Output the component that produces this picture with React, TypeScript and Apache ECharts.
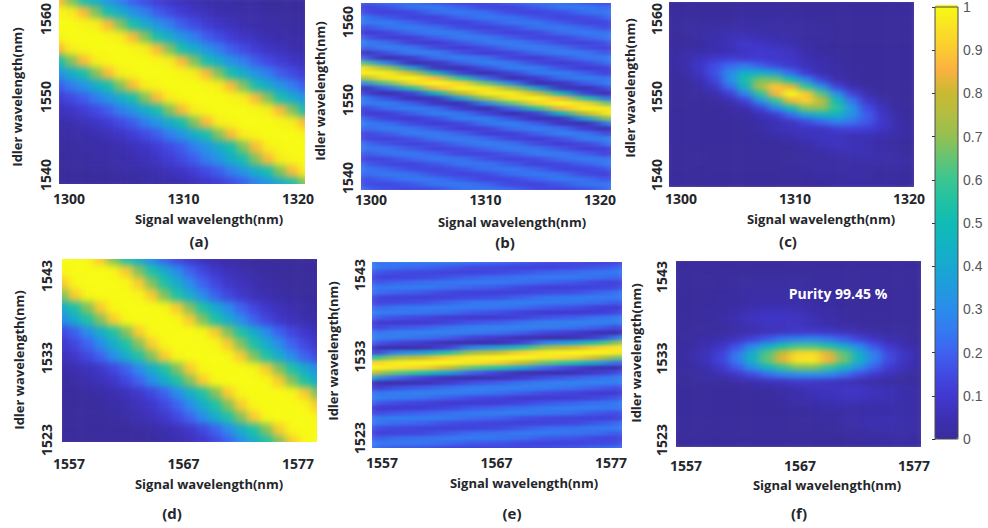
import React, { useEffect, useRef } from "react";
import * as echarts from "echarts";

// Colour scale (0 to 1, steps of 0.05)
const scaleColors = ["#3a2c9c","#3c30b5","#4139d0","#414ae3","#3e62f0","#347af0","#2a8cec","#209bde","#18a8d0","#12b3c2","#10bcb4","#22c2a2","#3cc690","#68c372","#96c050","#b4bd40","#ccb932","#fbb140","#fbcb30","#f9e322","#f7fb14"];

const signalTicksTop = [1300, 1310, 1320];
const idlerTicksTop = [1540, 1550, 1560];
const signalTicksBottom = [1557, 1567, 1577];
const idlerTicksBottom = [1523, 1533, 1543];
const panelNames = ["(a)", "(b)", "(c)", "(d)", "(e)", "(f)"];
const xTitle = "Signal wavelength(nm)";
const yTitle = "Idler wavelength(nm)";
const purityNote = "Purity 99.45 %";

// Panel (a): values in percent, listed row by row from the top
const aRows = [
[87,68,52,42,33,26,19,15,11,8,6,4,3,2,2,1,1,0,0,0,0],
[99,97,87,68,52,42,33,26,19,15,11,8,6,4,3,2,2,1,1,0,0],
[100,100,99,97,87,68,52,42,33,26,19,15,11,8,6,4,3,2,2,1,1],
[99,100,100,100,99,97,87,68,52,42,33,26,19,15,11,8,6,4,3,2,2],
[87,97,99,100,100,100,99,97,87,68,52,42,33,26,19,15,11,8,6,4,3],
[52,68,87,97,99,100,100,100,99,97,87,68,52,42,33,26,19,15,11,8,6],
[33,42,52,68,87,97,99,100,100,100,99,97,87,68,52,42,33,26,19,15,11],
[19,26,33,42,52,68,87,97,99,100,100,100,99,97,87,68,52,42,33,26,19],
[11,15,19,26,33,42,52,68,87,97,99,100,100,100,99,97,87,68,52,42,33],
[6,8,11,15,19,26,33,42,52,68,87,97,99,100,100,100,99,97,87,68,52],
[3,4,6,8,11,15,19,26,33,42,52,68,87,97,99,100,100,100,99,97,87],
[2,2,3,4,6,8,11,15,19,26,33,42,52,68,87,97,99,100,100,100,99],
[1,1,2,2,3,4,6,8,11,15,19,26,33,42,52,68,87,97,99,100,100],
[0,1,1,2,2,3,4,6,8,11,15,19,26,33,42,52,68,87,97,99,100],
[0,0,0,1,1,2,2,3,4,6,8,11,15,19,26,33,42,52,68,87,97],
[0,0,0,0,0,1,1,2,2,3,4,6,8,11,15,19,26,33,42,52,68],
];

// Panel (d): row by row from the top
const dRows = [
[100,100,99,90,68,54,42,30,20,14,9,6,4,2,1,0,0,0,0,0,0],
[99,100,100,100,99,90,68,54,42,30,20,14,9,6,4,2,1,0,0,0,0],
[90,99,100,100,100,99,90,68,54,42,30,20,14,9,6,4,2,1,0,0,0],
[68,90,99,100,100,100,99,90,68,54,42,30,20,14,9,6,4,2,1,0,0],
[42,54,68,90,99,100,100,100,99,90,68,54,42,30,20,14,9,6,4,2,1],
[30,42,54,68,90,99,100,100,100,99,90,68,54,42,30,20,14,9,6,4,2],
[14,20,30,42,54,68,90,99,100,100,100,99,90,68,54,42,30,20,14,9,6],
[9,14,20,30,42,54,68,90,99,100,100,100,99,90,68,54,42,30,20,14,9],
[6,9,14,20,30,42,54,68,90,99,100,100,100,99,90,68,54,42,30,20,14],
[2,4,6,9,14,20,30,42,54,68,90,99,100,100,100,99,90,68,54,42,30],
[1,2,4,6,9,14,20,30,42,54,68,90,99,100,100,100,99,90,68,54,42],
[0,0,1,2,4,6,9,14,20,30,42,54,68,90,99,100,100,100,99,90,68],
[0,0,0,1,2,4,6,9,14,20,30,42,54,68,90,99,100,100,100,99,90],
[0,0,0,0,1,2,4,6,9,14,20,30,42,54,68,90,99,100,100,100,99],
[0,0,0,0,0,0,1,2,4,6,9,14,20,30,42,54,68,90,99,100,100],
[0,0,0,0,0,0,0,1,2,4,6,9,14,20,30,42,54,68,90,99,100],
];

// Panel (b): column by column from the left, each column from the top
const bCols = [
[18,12,16,25,24,15,10,19,27,19,5,20,64,95,97,72,28,3,13,26,24,12,11,21,26,20,13,14,23,24,17,13,20,25,21,15,16,21],
[24,16,12,18,26,23,13,11,22,27,16,3,28,72,97,95,64,20,3,16,27,22,11,13,23,26,18,12,16,24,23,14,14,21,25,20,14,16],
[24,23,14,13,20,26,21,11,12,24,26,10,4,37,80,99,91,55,12,5,19,27,19,10,15,24,25,16,12,18,25,20,13,15,23,25,18,14],
[18,25,22,13,14,22,26,19,10,14,26,22,7,7,46,86,100,86,46,7,7,22,27,16,10,17,25,24,15,12,20,25,18,13,16,24,24,16],
[13,20,25,20,12,15,24,25,17,10,16,27,19,5,12,55,91,99,80,37,4,10,24,26,14,10,19,26,22,14,13,23,24,17,13,18,25,23],
[14,14,22,25,18,12,16,25,24,15,10,22,27,16,3,20,64,95,97,72,28,3,13,26,24,12,11,21,26,20,13,16,24,23,15,13,20,25],
[20,13,15,23,24,16,12,18,26,23,13,12,24,26,13,3,28,72,97,95,64,20,3,16,27,22,11,13,23,26,18,12,18,25,22,14,14,21],
[25,18,13,17,24,23,14,13,20,26,21,10,14,26,24,10,4,37,80,99,91,55,12,5,19,27,19,10,15,24,25,15,12,20,25,20,13,15],
[24,24,16,13,18,25,22,13,14,22,26,17,10,16,27,22,7,7,46,86,100,86,46,7,7,22,27,16,10,17,25,22,14,13,22,25,18,13],
[18,25,23,15,13,20,25,20,12,15,24,24,15,10,19,27,19,5,12,55,91,99,80,37,4,10,24,26,14,10,19,26,20,13,14,23,24,17],
[14,20,25,21,14,14,22,25,18,12,16,26,23,13,11,22,27,16,3,20,64,95,97,72,28,3,13,26,24,12,11,23,26,18,12,16,24,23],
];

// Panel (e): column by column from the left, each column from the top
const eCols = [
[23,25,18,13,17,24,23,14,13,20,26,20,11,13,23,27,19,5,12,55,91,99,80,37,4,10,23,27,19,10,14,24,25,16,12,18,25,22],
[25,23,15,13,20,25,20,12,15,24,25,16,10,17,26,25,13,3,28,72,97,95,64,20,3,16,26,25,15,10,18,26,22,14,13,22,25,18],
[25,21,14,14,22,25,18,12,16,25,24,14,10,19,27,23,10,4,37,80,99,91,55,12,5,19,27,23,13,11,20,26,20,13,14,23,24,17],
[25,18,13,17,24,23,14,13,20,26,22,11,13,23,27,19,5,12,55,91,99,80,37,4,10,23,27,19,10,14,23,25,16,12,18,25,22,14],
[23,15,13,20,25,20,12,15,24,25,18,10,17,26,25,13,3,28,72,97,95,64,20,3,16,26,25,15,10,18,25,22,14,13,22,25,18,13],
[21,14,14,22,25,18,12,16,25,24,16,10,19,27,23,10,4,37,80,99,91,55,12,5,19,27,23,13,11,20,26,20,13,14,23,24,17,13],
[18,13,17,24,23,14,13,20,26,22,12,13,23,27,19,5,12,55,91,99,80,37,4,10,23,27,19,10,14,23,26,16,12,18,25,22,14,14],
[15,13,20,25,20,12,15,24,25,18,10,17,26,25,13,3,28,72,97,95,64,20,3,16,26,25,15,10,18,25,24,14,13,22,25,18,13,16],
[14,14,22,25,18,12,16,25,24,16,10,19,27,23,10,4,37,80,99,91,55,12,5,19,27,23,13,11,20,26,22,13,14,23,24,17,13,18],
[13,17,24,23,14,13,20,26,22,12,11,23,27,19,5,12,55,91,99,80,37,4,10,23,27,19,10,14,23,26,18,12,18,25,22,14,14,21],
[13,20,25,20,12,15,24,25,18,10,15,26,25,13,3,28,72,97,95,64,20,3,16,26,25,15,10,18,25,24,15,13,22,25,18,13,16,24],
];

// Panel (c): column by column from the left, each column from the top
const cCols = [
[0,0,0,0,0,0,0,1,1,1,0,0,0,0,0,0,0,0,0,0,0,0,0,0,0,0,0],
[0,0,0,1,1,0,1,2,3,3,2,1,0,0,0,0,0,0,0,0,0,0,0,0,0,0,0],
[0,0,0,1,2,2,1,3,6,8,7,5,2,1,0,0,0,0,0,0,0,0,0,0,0,0,0],
[0,0,0,1,2,3,3,4,9,15,16,13,8,3,1,0,0,0,0,0,0,0,0,0,0,0,0],
[0,0,0,1,3,5,6,5,11,21,29,30,22,11,4,1,1,0,0,0,0,0,0,0,0,0,0],
[0,1,1,2,3,6,9,8,10,24,42,52,46,27,12,4,1,1,0,0,0,0,0,0,0,0,0],
[0,1,1,2,2,4,8,10,10,19,42,66,74,56,31,13,5,3,2,1,0,0,0,0,0,0,0],
[0,1,1,2,2,3,6,9,9,14,35,66,89,85,57,28,10,5,5,2,1,0,0,0,0,0,0],
[0,0,1,1,2,2,4,7,8,9,21,50,83,100,83,50,21,7,6,4,1,0,0,0,0,0,0],
[0,0,0,1,1,1,2,3,5,6,10,28,58,89,91,68,36,14,7,6,3,1,1,2,1,0,0],
[0,0,0,0,1,1,1,1,3,4,4,13,33,63,78,69,44,20,7,7,6,3,1,2,2,1,0],
[0,0,0,0,0,0,0,1,1,2,2,4,13,32,50,56,45,26,11,7,7,5,2,2,2,1,1],
[0,0,0,0,0,0,0,0,0,0,1,1,4,13,24,33,32,23,12,5,6,5,3,2,2,2,1],
[0,0,0,0,0,0,0,0,0,0,0,0,1,4,9,15,19,17,11,5,4,5,4,2,2,2,1],
[0,0,0,0,0,0,0,0,0,0,0,0,0,0,3,6,8,9,7,4,2,3,3,2,1,1,1],
[0,0,0,0,0,0,0,0,0,0,0,0,0,0,0,1,2,3,3,2,1,1,2,2,1,1,0],
[0,0,0,0,0,0,0,0,0,0,0,0,0,0,0,0,0,1,1,1,0,0,1,1,0,0,0],
];

// Panel (f): row by row from the top
const fRows = [
[0,0,0,0,0,0,0,0,0,0,0,0,0,0,0,0,0],
[0,0,0,0,0,0,0,0,0,0,0,0,0,0,0,0,0],
[0,0,0,0,0,0,0,0,0,0,0,0,0,0,0,0,0],
[0,0,0,0,1,1,1,1,1,0,0,0,0,0,0,0,0],
[0,0,0,0,1,2,2,2,2,1,0,0,0,0,0,0,0],
[0,0,0,1,1,2,2,2,2,1,1,0,0,0,0,0,0],
[0,0,0,1,1,2,3,3,2,2,1,0,0,0,0,0,0],
[0,0,1,1,3,5,6,6,5,3,2,1,0,0,0,0,0],
[0,0,1,2,4,7,8,8,7,5,3,1,0,0,0,0,0],
[0,0,0,1,3,5,7,7,7,5,3,2,1,0,0,0,0],
[0,0,1,1,2,4,6,7,9,9,8,6,4,2,1,1,0],
[0,1,2,4,7,12,18,24,27,28,24,19,13,8,4,2,1],
[1,1,4,8,16,28,41,53,61,61,54,42,29,17,9,4,2],
[1,2,6,12,24,42,62,80,92,93,82,64,43,26,14,7,3],
[1,2,6,13,25,43,64,82,95,96,84,66,44,27,14,7,3],
[1,1,4,9,18,31,45,58,67,67,59,46,31,19,10,5,2],
[0,1,2,4,8,14,21,27,31,32,28,22,15,9,5,2,1],
[0,0,1,1,2,4,6,7,9,9,8,6,4,2,1,1,0],
[0,0,0,0,0,1,1,3,4,6,7,8,8,6,5,3,2],
[0,0,0,0,0,0,1,2,3,5,6,7,7,6,5,3,2],
[0,0,0,0,0,0,0,1,2,3,4,5,4,4,4,3,2],
[0,0,0,0,0,0,0,0,1,1,2,2,2,2,3,2,2],
[0,0,0,0,0,0,0,0,0,1,1,2,3,4,4,3,2],
[0,0,0,0,0,0,0,0,0,0,1,2,3,4,4,3,2],
[0,0,0,0,0,0,0,0,0,0,0,1,1,2,2,2,2],
[0,0,0,0,0,0,0,0,0,0,0,0,1,1,2,2,1],
[0,0,0,0,0,0,0,0,0,0,0,0,0,1,1,1,1],
];

const transpose = (cols: number[][]) => cols[0].map((_, r) => cols.map((col) => col[r]));

// Layout: heat rectangle, blur (cross-cell smoothing like shading interp), axis extents and text anchors
const panels = [
  { rows: aRows, box: [59, 0, 246, 184], blur: "3.5 3.5", xr: [1299.13, 1320.61], yr: [1538.86, 1562.15], xt: signalTicksTop, yt: idlerTicksTop, xm: 7, ym: 7, xName: [209, 219], yName: [17, 97], tag: [199, 241] },
  { rows: transpose(bCols), box: [361, 3, 250, 187], blur: "9 1.4", xr: [1299.13, 1320.96], yr: [1538.46, 1562.44], xt: signalTicksTop, yt: idlerTicksTop, xm: 2, ym: 7, xName: [512, 222], yName: [320, 91], tag: [505, 242] },
  { rows: transpose(cCols), box: [669, 2, 245, 185], blur: "5 2.5", xr: [1298.95, 1320.44], yr: [1538.46, 1562.18], xt: signalTicksTop, yt: idlerTicksTop, xm: 4, ym: 6, xName: [821, 219], yName: [630, 88], tag: [788, 241] },
  { rows: dRows, box: [62, 259, 255, 183], blur: "3.5 3.5", xr: [1556.39, 1578.66], yr: [1522.76, 1545.07], xt: signalTicksBottom, yt: idlerTicksBottom, xm: 14, ym: 9, xName: [209, 484], yName: [19, 360], tag: [172, 513] },
  { rows: transpose(eCols), box: [372, 262, 250, 186], blur: "9 1.4", xr: [1556.13, 1577.96], yr: [1521.77, 1544.6], xt: signalTicksBottom, yt: idlerTicksBottom, xm: 7, ym: 6, xName: [524, 483], yName: [333, 351], tag: [512, 513] },
  { rows: fRows, box: [676, 261, 245, 186], blur: "5 2.5", xr: [1556.12, 1577.61], yr: [1522.14, 1544.96], xt: signalTicksBottom, yt: idlerTicksBottom, xm: 11, ym: 8, xName: [827, 485], yName: [636, 353], tag: [799, 513] },
];

const TEXT = "#24262b";
const FONT = '"Open Sans", sans-serif';

function heatOption(rows: number[][]) {
  const nCols = rows[0].length;
  const cells: number[][] = [];
  rows.forEach((row, r) => row.forEach((v, c) => cells.push([c, r, v])));
  return {
    animation: false,
    grid: { left: 0, top: 0, right: 0, bottom: 0 },
    xAxis: { type: "category", show: false, data: Array.from({ length: nCols }, (_, i) => String(i)) },
    yAxis: { type: "category", show: false, inverse: true, data: rows.map((_, i) => String(i)) },
    visualMap: { show: false, min: 0, max: 100, dimension: 2, inRange: { color: scaleColors } },
    series: [{ type: "heatmap", data: cells, silent: true, progressive: 0 }],
  };
}

function overlayOption() {
  const grid: any[] = [];
  const xAxis: any[] = [];
  const yAxis: any[] = [];
  const graphic: any[] = [];
  panels.forEach((p, i) => {
    const [l, t, w, h] = p.box;
    grid.push({ left: l, top: t, width: w, height: h, show: false });
    const label = { color: TEXT, fontFamily: FONT, fontWeight: 700, fontSize: 14 };
    xAxis.push({
      type: "value", gridIndex: i, min: p.xr[0], max: p.xr[1], position: "bottom",
      axisLine: { show: false }, axisTick: { show: false }, splitLine: { show: false },
      axisLabel: { ...label, margin: p.xm, customValues: p.xt, formatter: (v: number) => String(v) },
    });
    yAxis.push({
      type: "value", gridIndex: i, min: p.yr[0], max: p.yr[1], position: "left",
      axisLine: { show: false }, axisTick: { show: false }, splitLine: { show: false },
      axisLabel: { ...label, rotate: 90, margin: p.ym, customValues: p.yt, formatter: (v: number) => String(v) },
    });
    const titleStyle = { fill: TEXT, font: `700 13px ${FONT}`, align: "center", verticalAlign: "middle" };
    graphic.push({ type: "text", x: p.xName[0], y: p.xName[1], style: { ...titleStyle, text: xTitle } });
    graphic.push({ type: "text", x: p.yName[0], y: p.yName[1], rotation: Math.PI / 2, style: { ...titleStyle, text: yTitle } });
    graphic.push({ type: "text", x: p.tag[0], y: p.tag[1], style: { ...titleStyle, font: `700 15px ${FONT}`, text: panelNames[i] } });
  });
  graphic.push({ type: "text", x: 838, y: 293, style: { fill: "#ffffff", font: `700 14px ${FONT}`, align: "center", verticalAlign: "middle", text: purityNote } });

  // Colour bar: a visual map for the ramp, and one axis for its frame, ticks and labels
  grid.push({ left: 935, top: 5, width: 23, height: 434, show: true, borderColor: "#4a4a4a", borderWidth: 1, backgroundColor: "transparent", z: 5 });
  xAxis.push({ type: "value", gridIndex: 6, min: 0, max: 1, show: false });
  yAxis.push({
    type: "value", gridIndex: 6, min: 0, max: 1, interval: 0.1, position: "right",
    axisLine: { show: true, lineStyle: { color: "#4a4a4a" } },
    axisTick: { show: true, inside: true, length: 3, lineStyle: { color: "#333" } },
    splitLine: { show: false },
    axisLabel: { color: "#555", fontFamily: "Liberation Sans", fontSize: 14, margin: 5 },
  });
  return {
    animation: false,
    grid, xAxis, yAxis, graphic,
    visualMap: {
      type: "continuous", show: true, min: 0, max: 1, left: 935, top: 5, padding: 0, itemWidth: 23, itemHeight: 434,
      calculable: false, showLabel: false, text: ["", ""], hoverLink: false, inRange: { color: scaleColors },
    },
    series: [],
  };
}

export default function App() {
  const heatRefs = useRef<(HTMLDivElement | null)[]>([]);
  const overlayRef = useRef<HTMLDivElement>(null);
  useEffect(() => {
    const charts = panels.map((p, i) => {
      const c = echarts.init(heatRefs.current[i]!, undefined, { renderer: "svg" });
      c.setOption(heatOption(p.rows) as any);
      return c;
    });
    const overlay = echarts.init(overlayRef.current!, undefined, { renderer: "svg" });
    overlay.setOption(overlayOption() as any);
    return () => {
      charts.forEach((c) => c.dispose());
      overlay.dispose();
    };
  }, []);
  return (
    <div style={{ position: "absolute", left: 0, top: 0, width: 988, height: 528, overflow: "hidden", background: "#fff" }}>
      <svg width="0" height="0" style={{ position: "absolute" }}>
        <defs>
          {panels.map((p, i) => (
            <filter key={i} id={`smooth-${i}`} x="-20%" y="-20%" width="140%" height="140%" colorInterpolationFilters="sRGB">
              <feGaussianBlur stdDeviation={p.blur} />
            </filter>
          ))}
        </defs>
      </svg>
      {panels.map((p, i) => {
        const [l, t, w, h] = p.box;
        const px = w / (p.rows[0].length - 1);
        const py = h / (p.rows.length - 1);
        return (
          <div key={i} style={{ position: "absolute", left: l, top: t, width: w, height: h, overflow: "hidden" }}>
            <div
              ref={(el) => { heatRefs.current[i] = el; }}
              style={{ position: "absolute", left: -px / 2, top: -py / 2, width: w + px, height: h + py, filter: `url(#smooth-${i})` }}
            />
          </div>
        );
      })}
      <div ref={overlayRef} style={{ position: "absolute", left: 0, top: 0, width: 988, height: 528 }} />
    </div>
  );
}
